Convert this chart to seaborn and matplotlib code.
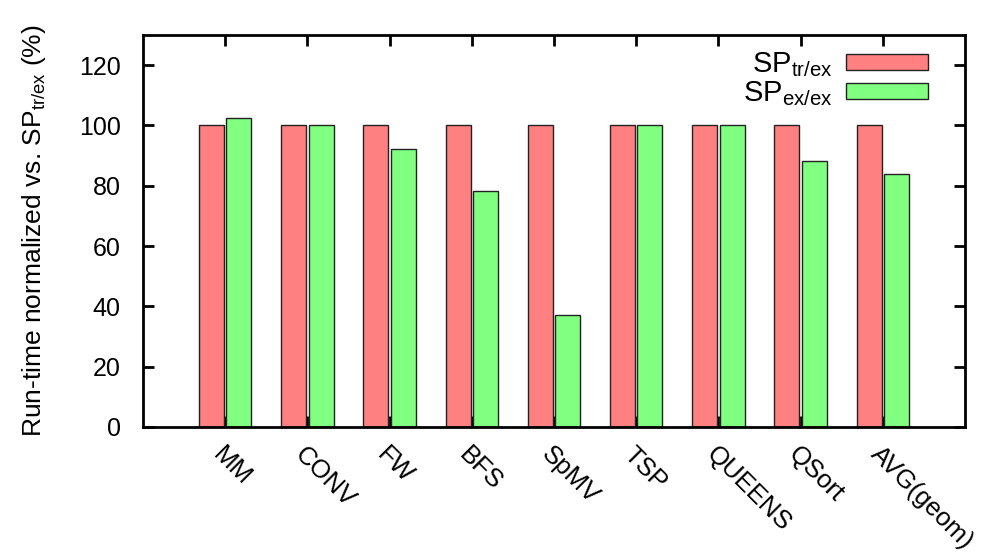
import matplotlib
matplotlib.use("Agg")
import matplotlib.pyplot as plt
import seaborn as sns
import pandas as pd

benchmarks = ["MM", "CONV", "FW", "BFS", "SpMV", "TSP", "QUEENS", "QSort", "AVG(geom)"]
sp_tr_ex = [100, 100, 100, 100, 100, 100, 100, 100, 100]
sp_ex_ex = [102.6, 100.0, 92.1, 78.1, 37.0, 100.0, 100.3, 88.3, 83.8]
series_labels = ["SP$_\\mathregular{tr/ex}$", "SP$_\\mathregular{ex/ex}$"]
y_ticks = [0, 20, 40, 60, 80, 100, 120]

sns.set_style("white")
plt.rcParams["font.family"] = ["Liberation Sans", "DejaVu Sans"]
plt.rcParams["mathtext.fontset"] = "custom"
plt.rcParams["mathtext.rm"] = "Liberation Sans"
plt.rcParams["mathtext.it"] = "Liberation Sans"
plt.rcParams["text.color"] = "black"

df = pd.DataFrame({
    "bench": benchmarks * 2,
    "value": sp_tr_ex + sp_ex_ex,
    "series": [series_labels[0]] * len(benchmarks) + [series_labels[1]] * len(benchmarks),
})

fig = plt.figure(figsize=(9.95, 5.6), dpi=100)
ax = fig.add_axes([143 / 995, 133 / 560, 822 / 995, 392 / 560])

sns.barplot(
    data=df, x="bench", y="value", hue="series", order=benchmarks,
    hue_order=series_labels, palette=["#ff8080", "#80ff80"],
    width=0.67, gap=0.09, edgecolor="#222222", linewidth=1.0,
    saturation=1.0, ax=ax, legend=True,
)

ax.set_xlim(-1, len(benchmarks))
ax.set_ylim(0, 130)
ax.set_yticks(y_ticks)
ax.set_xlabel("")
ax.set_ylabel("Run-time normalized vs. SP$_\\mathregular{tr/ex}$ (%)", fontsize=19,
              labelpad=22, color="black")

for s in ax.spines.values():
    s.set_visible(True)
    s.set_linewidth(2)
    s.set_color("black")

ax.tick_params(axis="both", direction="in", length=8, width=2, color="black",
               labelsize=18, labelcolor="black", bottom=True, top=True, left=True, right=True)
ax.tick_params(axis="y", pad=16)
ax.set_xticks(range(len(benchmarks)))
ax.set_xticklabels(benchmarks, rotation=-45, ha="left", va="top",
                   rotation_mode="anchor", fontsize=18.5)
ax.tick_params(axis="x", pad=11)

leg = ax.legend(loc="upper right", frameon=False, markerfirst=False,
                fontsize=21, handlelength=2.8, handleheight=0.48,
                handletextpad=0.45, labelspacing=0.0,
                bbox_to_anchor=(0.983, 1.02), borderaxespad=0.4)
for h in leg.legend_handles:
    h.set_edgecolor("#222222")
    h.set_linewidth(1.0)
for t in leg.get_texts():
    t.set_ha("right")

fig.savefig("out.png", dpi=100)
